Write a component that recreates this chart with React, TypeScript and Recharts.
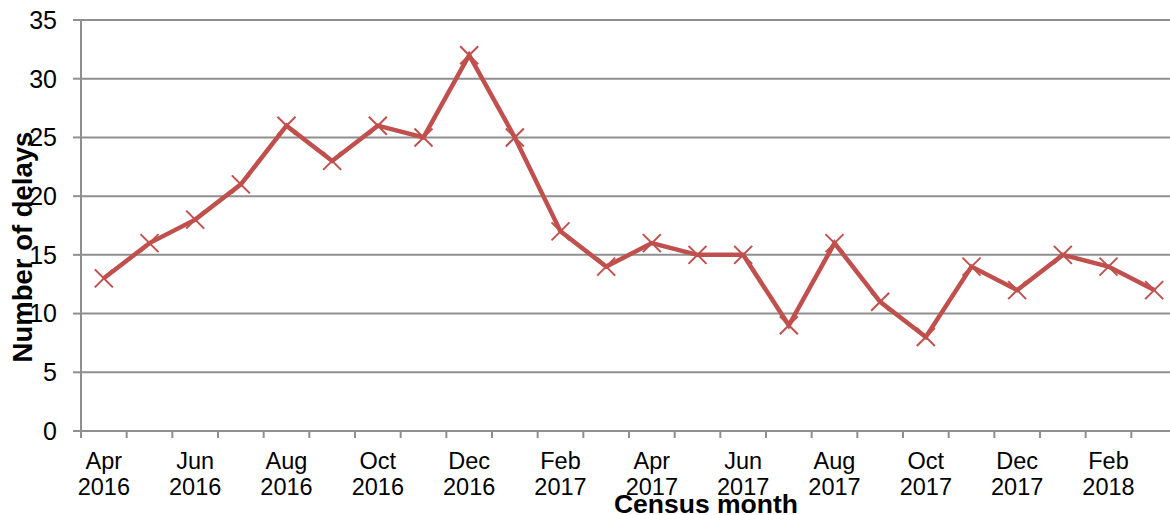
import React from 'react';
import { LineChart, Line, XAxis, YAxis, CartesianGrid } from 'recharts';

const months = ['Apr', 'May', 'Jun', 'Jul', 'Aug', 'Sep', 'Oct', 'Nov', 'Dec', 'Jan', 'Feb', 'Mar', 'Apr', 'May', 'Jun', 'Jul', 'Aug', 'Sep', 'Oct', 'Nov', 'Dec', 'Jan', 'Feb', 'Mar'];
const years = ['2016', '2016', '2016', '2016', '2016', '2016', '2016', '2016', '2016', '2017', '2017', '2017', '2017', '2017', '2017', '2017', '2017', '2017', '2017', '2017', '2017', '2018', '2018', '2018'];
const delays = [13, 16, 18, 21, 26, 23, 26, 25, 32, 25, 17, 14, 16, 15, 15, 9, 16, 11, 8, 14, 12, 15, 14, 12];
const yTicks = [0, 5, 10, 15, 20, 25, 30, 35];

const data = months.map((m, i) => ({ key: `${m} ${years[i]}`, month: m, year: years[i], value: delays[i] }));

const RED = '#C0504D';
const GRID = '#8f8f8f';
const FONT = '"Liberation Sans", Arial, sans-serif';

const XTick = (props: any) => {
  const { x, y, payload, index } = props;
  const half = payload && payload.offset ? payload.offset : 22.8;
  const d = data[index];
  return (
    <g>
      <line x1={x - half} x2={x - half} y1={y} y2={y + 7} stroke={GRID} strokeWidth={2} />
      {index % 2 === 0 && d ? (
        <text x={x} y={y} textAnchor="middle" fontFamily={FONT} fontSize={23.5} fill="#000">
          <tspan x={x} dy={37.5}>{d.month}</tspan>
          <tspan x={x} dy={26.5}>{d.year}</tspan>
        </text>
      ) : null}
    </g>
  );
};

const Cross = (props: any) => {
  const { cx, cy } = props;
  if (cx == null || cy == null) return null;
  const r = 9;
  return (
    <g>
      <line x1={cx - r} y1={cy - r} x2={cx + r} y2={cy + r} stroke={RED} strokeWidth={2} />
      <line x1={cx - r} y1={cy + r} x2={cx + r} y2={cy - r} stroke={RED} strokeWidth={2} />
    </g>
  );
};

const YLabel = (props: any) => {
  const vb = props.viewBox || { x: 0, y: 20, width: 82, height: 411 };
  const cx = vb.x + 32;
  const cy = 247;
  return (
    <text x={cx} y={cy} transform={`rotate(-90 ${cx} ${cy})`} textAnchor="middle" fontFamily={FONT} fontWeight="bold" fontSize={27.5} fill="#000">
      Number of delays
    </text>
  );
};

const XLabel = () => {
  return (
    <text x={706} y={512.5} textAnchor="middle" fontFamily={FONT} fontWeight="bold" fontSize={26.5} fill="#000">
      Census month
    </text>
  );
};

export default function App() {
  return (
    <div style={{ position: 'absolute', left: 0, top: 0, width: 1170, height: 515, overflow: 'hidden', background: '#fff' }}>
      <LineChart width={1177} height={515} data={data} margin={{ top: 20, right: 0, bottom: 0, left: 0 }}>
        <CartesianGrid vertical={false} stroke={GRID} strokeWidth={2} />
        <XAxis
          dataKey="key"
          scale="band"
          height={84}
          interval={0}
          tickSize={0}
          tickMargin={0}
          tickLine={false}
          axisLine={{ stroke: GRID, strokeWidth: 2 }}
          tick={<XTick />}
          label={<XLabel />}
        />
        <YAxis
          width={81}
          domain={[0, 35]}
          ticks={yTicks}
          interval={0}
          tickSize={8}
          tickMargin={16}
          tickLine={{ stroke: GRID, strokeWidth: 2 }}
          axisLine={{ stroke: GRID, strokeWidth: 2 }}
          tick={{ fill: '#000', fontSize: 25, fontFamily: FONT }}
          label={<YLabel />}
        />
        <Line
          type="linear"
          dataKey="value"
          stroke={RED}
          strokeWidth={4.5}
          dot={<Cross />}
          activeDot={false}
          isAnimationActive={false}
        />
      </LineChart>
    </div>
  );
}
